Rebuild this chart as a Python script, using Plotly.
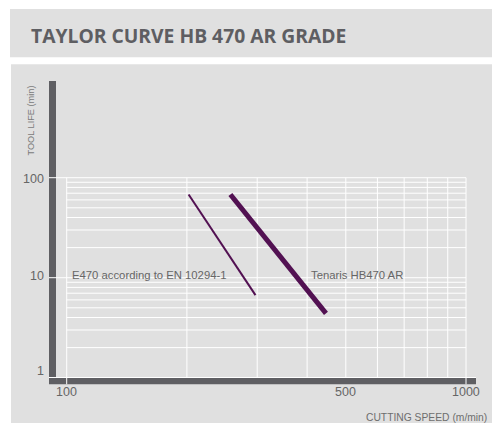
import math
import plotly.graph_objects as go

# ---------------- data ----------------
series_names = ["E470 according to EN 10294-1", "Tenaris HB470 AR"]
speed_e470 = [202, 297]      # cutting speed (m/min)
life_e470 = [68, 6.7]        # tool life (min)
speed_tenaris = [257, 446]
life_tenaris = [68, 4.4]

x_ticks = [100, 500, 1000]
x_tick_text = ["100", "500", "1000"]
y_ticks = [1, 10, 100]
y_tick_text = ["1", "10", "100"]
x_grid = [100, 200, 300, 400, 500, 600, 700, 800, 900, 1000]
y_grid = [1, 2, 3, 4, 5, 6, 7, 8, 9, 10, 20, 30, 40, 50, 60, 70, 80, 90, 100]
label_pos_x = [102, 405]     # where the series labels start (m/min)
label_pos_y = [10, 10]

# ---------------- layout helpers ----------------
W, H = 492, 423
L, R, T, B = 56, 476, 81, 378          # plot area in pixels
GRAY = "#e0e0e0"
DARK = "#5f5f63"
PURPLE = "#521152"
TXT = "#666666"
FONT = "Liberation Sans, Arial, sans-serif"


def px(x):
    return (x - L) / (R - L)


def py(y):
    return (B - y) / (B - T)


lg = math.log10

shapes = []
# panels
shapes.append(dict(type="rect", xref="paper", yref="paper", x0=px(10), x1=px(493),
                   y0=py(57.3), y1=py(9), fillcolor=GRAY, line=dict(width=0), layer="below"))
shapes.append(dict(type="rect", xref="paper", yref="paper", x0=px(11), x1=px(493),
                   y0=py(424), y1=py(64.3), fillcolor=GRAY, line=dict(width=0), layer="below"))
# axis bars
shapes.append(dict(type="rect", xref="paper", yref="paper", x0=px(49), x1=px(56),
                   y0=py(378), y1=py(81), fillcolor=DARK, line=dict(width=0), layer="below"))
shapes.append(dict(type="rect", xref="paper", yref="paper", x0=px(49), x1=px(476),
                   y0=py(384.3), y1=py(377.7), fillcolor=DARK, line=dict(width=0), layer="below"))
# grid
for v in y_grid:
    shapes.append(dict(type="line", xref="x", yref="y", x0=x_grid[0], x1=x_grid[-1], y0=v, y1=v,
                       line=dict(color="white", width=1), layer="below"))
for v in x_grid:
    shapes.append(dict(type="line", xref="x", yref="y", x0=v, x1=v, y0=y_grid[0], y1=y_grid[-1],
                       line=dict(color="white", width=1), layer="below"))
# tick marks across the bars
for v in y_ticks:
    shapes.append(dict(type="line", xref="paper", yref="y", x0=px(49), x1=px(67), y0=v, y1=v,
                       line=dict(color="white", width=1), layer="below"))
shapes.append(dict(type="line", xref="paper", yref="y", x0=px(49), x1=px(476), y0=y_ticks[0], y1=y_ticks[0],
                   line=dict(color="white", width=1.5), layer="below"))
for v in [x_ticks[0], x_ticks[-1]]:
    shapes.append(dict(type="line", xref="x", yref="paper", x0=v, x1=v, y0=py(384.3), y1=py(377),
                       line=dict(color="white", width=1), layer="below"))

fig = go.Figure()
fig.add_trace(go.Scatter(x=speed_e470, y=life_e470, mode="lines", name=series_names[0],
                         line=dict(color=PURPLE, width=2), hoverinfo="skip", showlegend=False))
fig.add_trace(go.Scatter(x=speed_tenaris, y=life_tenaris, mode="lines", name=series_names[1],
                         line=dict(color=PURPLE, width=5), hoverinfo="skip", showlegend=False))

ann = []
# title
ann.append(dict(xref="paper", yref="paper", x=px(29), y=py(35), xanchor="left", yanchor="middle",
                text="TAYLOR CURVE HB 470 AR GRADE", showarrow=False,
                font=dict(family="Open Sans, Liberation Sans, sans-serif", size=19.3, color="#5e5e62", weight="bold")))
# axis titles
ann.append(dict(xref="paper", yref="paper", x=px(30), y=py(120.5), xanchor="center", yanchor="middle",
                text="TOOL LIFE (min)", textangle=-90, showarrow=False,
                font=dict(family=FONT, size=9.2, color="#7a7a7a")))
ann.append(dict(xref="paper", yref="paper", x=px(489), y=py(417), xanchor="right", yanchor="middle",
                text="CUTTING SPEED (m/min)", showarrow=False,
                font=dict(family=FONT, size=10.3, color="#6e6e6e")))
# x tick labels
for v, t in zip(x_ticks, x_tick_text):
    ann.append(dict(xref="x", yref="paper", x=lg(v), y=py(391.5), xanchor="center", yanchor="middle",
                    text=t, showarrow=False,
                    font=dict(family=FONT, size=12.5, color=TXT)))
# y tick labels
y_label_shift = [7, 1.5, -1.5]
for v, t, s in zip(y_ticks, y_tick_text, y_label_shift):
    ann.append(dict(xref="paper", yref="y", x=px(46), y=lg(v), xanchor="right", yanchor="middle",
                    text=t, showarrow=False, yshift=s,
                    font=dict(family=FONT, size=12.5, color=TXT)))
# series labels
for name, lx, ly in zip(series_names, label_pos_x, label_pos_y):
    ann.append(dict(xref="x", yref="y", x=lg(lx), y=lg(ly), xanchor="left", yanchor="middle",
                    text=name, showarrow=False, yshift=3,
                    font=dict(family=FONT, size=11.3, color=TXT)))

fig.update_layout(
    width=W, height=H,
    margin=dict(l=L, r=W - R, t=T, b=H - B, pad=0),
    paper_bgcolor="white",
    plot_bgcolor="rgba(0,0,0,0)",
    showlegend=False,
    shapes=shapes,
    annotations=ann,
    xaxis=dict(type="log", range=[2 - 10.7 / 399.3, 2 + 409.3 / 399.3],
               showgrid=False, zeroline=False, showline=False, showticklabels=False, ticks=""),
    yaxis=dict(type="log", range=[-0.003, 2.967],
               showgrid=False, zeroline=False, showline=False, showticklabels=False, ticks=""),
)

fig.write_html("out.html", config={"displayModeBar": False},
               post_script="document.body.style.margin='0';document.body.style.overflow='hidden';")
